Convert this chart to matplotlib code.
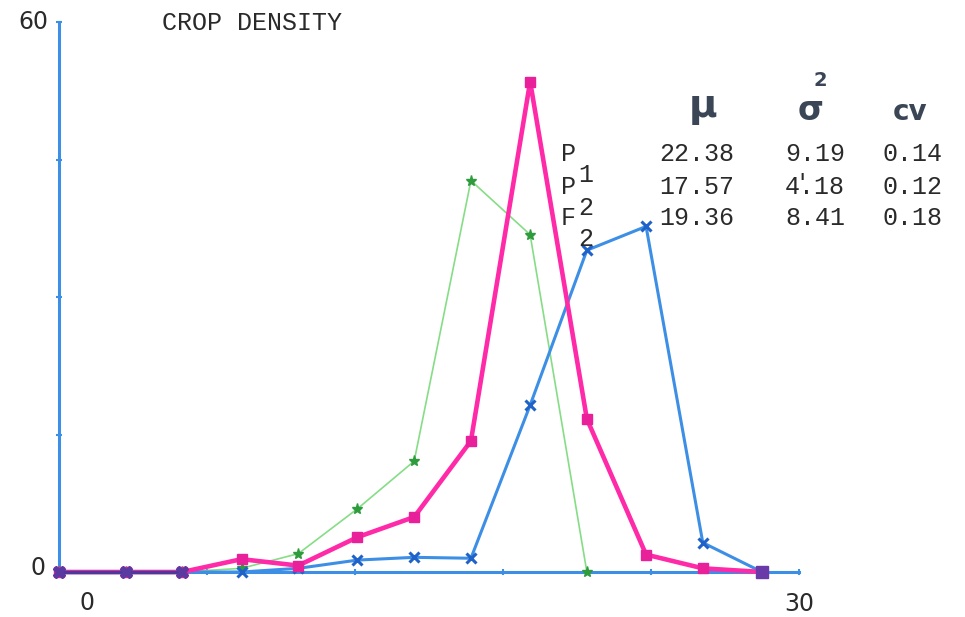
import matplotlib.pyplot as plt
import numpy as np

# class positions (0..30 scale)
classes = [0, 2.7, 5.0, 7.4, 9.7, 12.1, 14.4, 16.7, 19.1, 21.4, 23.8, 26.1, 28.5]

# percent of plants per class
p1 = [0, 0, 0, 0, 0.4, 1.3, 1.6, 1.5, 18.2, 35.1, 37.7, 3.2, 0]      # blue, x markers
f2 = [0, 0, 0, 1.4, 0.7, 3.8, 6.0, 14.3, 53.5, 16.7, 1.9, 0.4, 0]    # pink, squares
p2 = [0, 0, 0, 0.4, 2.0, 6.9, 12.1, 42.7, 36.8, 0]                   # green, stars

row_labels = ["P", "P", "F"]
row_subs = ["1", "2", "2"]
mu = ["22.38", "17.57", "19.36"]
var = ["9.19", "4.18", "8.41"]
cv = ["0.14", "0.12", "0.18"]

BLUE = "#3d8fe6"
PINK = "#ff2aa8"
GREEN = "#86dd86"
INK = "#2a2a2a"
HEAD = "#3a4656"
MONO = "Liberation Mono"
FS = 18

W, H = 965, 617
fig = plt.figure(figsize=(W / 100, H / 100), dpi=100)
ax = fig.add_axes([59 / W, (H - 572) / H, 740 / W, 550 / H])
ax.set_xlim(0, 30)
ax.set_ylim(0, 60)
ax.patch.set_alpha(0)

for s in ["top", "right"]:
    ax.spines[s].set_visible(False)
for s in ["left", "bottom"]:
    ax.spines[s].set_color(BLUE)
    ax.spines[s].set_linewidth(2.2)
ax.set_xticks([6, 12, 18, 24, 30])
ax.set_yticks([15, 30, 45, 60])
ax.tick_params(direction="inout", length=5, width=1.5, color=BLUE,
               labelbottom=False, labelleft=False)

ax.plot(classes[:len(p2)], p2, color=GREEN, lw=1.2, marker="*", ms=8,
        mfc="#2e9c3c", mec="#2e9c3c", clip_on=False, zorder=3)
ax.plot(classes, p1, color=BLUE, lw=2.2, marker="x", ms=7, mew=2.2,
        mec="#1f62c8", clip_on=False, zorder=4)
ax.plot(classes, f2, color=PINK, lw=3.3, marker="s", ms=7,
        mfc="#e8209a", mec="#e8209a", clip_on=False, zorder=5)
# overlapping start of the three curves looks dark purple
ax.plot(classes[:3], [0, 0, 0], color="#4a3a9a", lw=2.5, marker="X", ms=8,
        mec="#5a3aa0", mfc="#5a3aa0", clip_on=False, zorder=6)
ax.plot(classes[12], 0, marker="s", ms=8, color="#6a3aa8", clip_on=False, zorder=6)

# axis labels (typed at odd places on the original)
fig.text(33 / W, 1 - 22 / H, "60", ha="center", va="center", fontsize=17, color=INK)
fig.text(38 / W, 1 - 568 / H, "0", ha="center", va="center", fontsize=17, color=INK)
fig.text(87 / W, 1 - 603 / H, "0", ha="center", va="center", fontsize=17, color=INK)
fig.text(799 / W, 1 - 604 / H, "30", ha="center", va="center", fontsize=17, color=INK)

fig.text(162 / W, 1 - 23 / H, "CROP DENSITY", ha="left", va="center",
         fontsize=FS, family=MONO, color=INK)

# statistics table
fig.text(703 / W, 1 - 106 / H, "\u03bc", ha="center", va="center", fontsize=28,
         fontweight="bold", color=HEAD)
fig.text(811 / W, 1 - 110 / H, "\u03c3", ha="center", va="center", fontsize=24,
         fontweight="bold", color=HEAD)
fig.text(820 / W, 1 - 80 / H, "2", ha="center", va="center", fontsize=14,
         fontweight="bold", color=HEAD)
fig.text(910 / W, 1 - 112 / H, "cv", ha="center", va="center", fontsize=20,
         fontweight="bold", color=HEAD)

row_y = [154, 187, 218]
for i, y in enumerate(row_y):
    fig.text(561 / W, 1 - y / H, row_labels[i], ha="left", va="center",
             fontsize=FS, family=MONO, color=INK)
    fig.text(578 / W, 1 - (y + 21) / H, row_subs[i], ha="left", va="center",
             fontsize=FS, family=MONO, color=INK)
    fig.text(659 / W, 1 - y / H, mu[i], ha="left", va="center",
             fontsize=FS, family=MONO, color=INK)
    fig.text(785 / W, 1 - y / H, var[i], ha="left", va="center",
             fontsize=FS, family=MONO, color=INK)
    fig.text(882 / W, 1 - y / H, cv[i], ha="left", va="center",
             fontsize=FS, family=MONO, color=INK)

# stray typewriter tick overprinted on the 4.18
fig.text(795 / W, 1 - 183 / H, "'", ha="left", va="center",
         fontsize=FS - 2, family=MONO, color=INK)

fig.savefig("out.png", dpi=100, facecolor="white")
